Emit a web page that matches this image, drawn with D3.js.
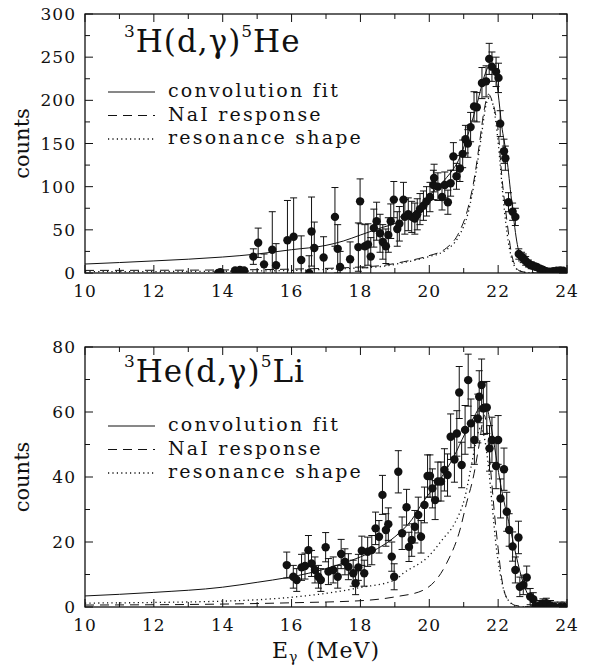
<!DOCTYPE html>
<html>
<head>
<meta charset="utf-8">
<script src="https://cdn.jsdelivr.net/npm/d3@7"></script>
<style>
body { margin: 0; background: #fff; }
text { font-family: 'DejaVu Serif', serif; fill: #111; }
</style>
</head>
<body>
<div id="chart"></div>
<script>
// x ticks (MeV) and y ticks per panel
let xTicks = [10, 12, 14, 16, 18, 20, 22, 24]
let topYTicks = [0, 50, 100, 150, 200, 250, 300]
let botYTicks = [0, 20, 40, 60, 80]

// 3H(d,g)5He : [E, counts, error]
let topPoints = [
  [13.87, 0, 2], [13.93, 1, 2], [14.36, 3, 2], [14.50, 3.5, 2], [14.62, 3, 2],
  [14.89, 19, 9], [15.03, 35, 17], [15.20, 10, 12], [15.44, 27, 44], [15.55, 9, 25],
  [15.88, 38, 46], [16.06, 42, 45], [16.28, 15, 28], [16.51, 0, 20], [16.58, 48, 40],
  [16.66, 29, 30], [16.93, 18, 24], [17.26, 65, 34], [17.34, 28, 28], [17.41, 7, 18],
  [17.70, 16, 20], [17.94, 30, 28], [17.99, 83, 26], [18.13, 31, 25], [18.22, 33, 24],
  [18.30, 19, 22], [18.39, 52, 22], [18.47, 60, 22], [18.57, 46, 22], [18.65, 36, 20],
  [18.74, 31, 20], [18.81, 44, 20], [18.88, 60, 20], [18.97, 85, 21], [19.07, 51, 20],
  [19.13, 57, 20], [19.25, 85, 20], [19.29, 65, 20], [19.39, 68, 19], [19.49, 65, 18],
  [19.58, 63, 18], [19.65, 68, 18], [19.73, 74, 18], [19.83, 78, 17], [19.92, 83, 17],
  [20.02, 88, 17], [20.12, 102, 17], [20.14, 110, 16], [20.25, 100, 16], [20.37, 88, 15],
  [20.45, 102, 15], [20.54, 82, 14], [20.62, 104, 15], [20.70, 135, 16], [20.79, 112, 15],
  [20.89, 121, 15], [20.97, 138, 16], [21.05, 155, 16], [21.12, 150, 16], [21.20, 169, 17],
  [21.30, 193, 17], [21.38, 192, 17], [21.53, 220, 18], [21.65, 222, 18], [21.74, 248, 18],
  [21.82, 239, 17], [21.94, 233, 17], [22.01, 226, 17], [22.06, 173, 15], [22.17, 141, 14],
  [22.21, 133, 14], [22.30, 82, 11], [22.42, 71, 10], [22.50, 65, 10], [22.60, 22, 6],
  [22.68, 19, 5], [22.73, 17, 5], [22.80, 14, 5], [22.88, 11, 4], [22.96, 9, 4],
  [23.05, 8, 3], [23.12, 7, 3], [23.22, 5, 3], [23.31, 3.5, 2], [23.40, 2, 2],
  [23.50, 1.5, 2], [23.60, 2, 2], [23.70, 2.7, 2], [23.80, 3, 2], [23.89, 2.7, 2]
]

// 3He(d,g)5Li : [E, counts, error]
let botPoints = [
  [15.86, 12.9, 4], [16.05, 9.3, 3.5], [16.15, 8.3, 3.5], [16.29, 12.2, 4], [16.39, 12.6, 4],
  [16.49, 17.5, 4.5], [16.58, 13.4, 4], [16.68, 11.4, 4], [16.78, 9.3, 3.5], [16.85, 8.3, 3.5],
  [16.99, 18.4, 4.5], [17.07, 10.9, 4], [17.21, 11.4, 4], [17.34, 9.3, 3.5], [17.44, 16.3, 4.5],
  [17.55, 13.9, 4], [17.65, 12.4, 4], [17.79, 10.4, 4], [17.86, 7.3, 3.5], [17.94, 12.2, 4],
  [18.04, 17.3, 4.5], [18.11, 10.4, 4], [18.21, 17, 4.5], [18.33, 17.5, 4.5], [18.44, 24.2, 5],
  [18.54, 21.6, 5], [18.64, 34.5, 6], [18.74, 23.7, 5], [18.81, 25.5, 5], [18.91, 15.5, 4.5],
  [18.98, 9.3, 4], [19.10, 41.6, 6.5], [19.21, 22.7, 5], [19.34, 30.7, 5.5], [19.41, 18.5, 4.5],
  [19.49, 20.6, 5], [19.58, 24.7, 5], [19.68, 28.3, 5.5], [19.76, 21.6, 5], [19.86, 31.4, 5.5],
  [19.95, 40.3, 6.5], [20.02, 40.3, 6.5], [20.09, 36.5, 6], [20.17, 32.9, 6], [20.25, 38.6, 6],
  [20.34, 38.6, 6], [20.44, 42.2, 6.5], [20.53, 40.6, 6.5], [20.62, 52.4, 7], [20.73, 45.4, 7],
  [20.80, 53.4, 7], [20.87, 66, 8], [20.94, 43.7, 7], [21.04, 54.5, 7.5], [21.13, 69.8, 8],
  [21.21, 56.5, 7.5], [21.31, 51.4, 7.5], [21.41, 58, 7.5], [21.45, 64.7, 8], [21.52, 68.3, 8],
  [21.57, 61.1, 8], [21.67, 61.4, 8], [21.75, 48.8, 7], [21.82, 51.4, 7], [21.94, 43.4, 7],
  [22.00, 51.4, 7.5], [22.07, 33.4, 6], [22.17, 42.4, 6.5], [22.25, 29.3, 6], [22.32, 23.7, 5],
  [22.42, 18.6, 4.5], [22.50, 11.4, 4], [22.59, 21.4, 5], [22.63, 6.2, 3], [22.73, 6.8, 3],
  [22.83, 9.1, 3.5], [22.93, 3.2, 2.5], [23.02, 2.4, 2], [23.10, 0, 1.5], [23.20, 0.5, 1.5],
  [23.30, 1, 1.5], [23.40, 1.2, 1.5], [23.52, 0.5, 1.5], [23.65, 0, 1.5], [23.80, 0, 1.5],
  [23.92, 0, 1.5]
]

let topFit = [
  [10, 10.4], [12, 14], [14, 18.5], [15, 22], [16, 27], [17, 32], [17.5, 37], [18, 44],
  [18.5, 51], [19.2, 61], [19.6, 72], [20, 90], [20.45, 108], [20.9, 135], [21.2, 170],
  [21.4, 198], [21.6, 228], [21.78, 242], [21.9, 234], [22.0, 208], [22.1, 172],
  [22.25, 134], [22.39, 84], [22.54, 37], [22.68, 14], [22.85, 7], [23, 4], [23.3, 1.5],
  [23.6, 0.5], [24, 0]
]
let topNaI = [
  [10, 3], [14, 3.5], [16, 4.5], [18, 7], [18.7, 9], [19.25, 13], [19.9, 19], [20.5, 29],
  [20.85, 46], [21.13, 76], [21.33, 115], [21.45, 148], [21.6, 190], [21.72, 207],
  [21.82, 200], [21.92, 185], [22.0, 165], [22.1, 115], [22.25, 62], [22.39, 22],
  [22.5, 8], [22.65, 2], [23, 0], [24, 0]
]
let topResonance = [
  [10, 1.5], [14, 2], [16, 3], [18, 6], [18.7, 8], [19.25, 12], [19.9, 18], [20.5, 27],
  [20.85, 42], [21.13, 70], [21.33, 110], [21.5, 155], [21.65, 195], [21.75, 203],
  [21.85, 195], [21.95, 170], [22.05, 130], [22.15, 85], [22.3, 35], [22.45, 10],
  [22.6, 3], [23, 0], [24, 0]
]
let botFit = [
  [10, 3.4], [12, 4.5], [14, 6.1], [15, 7.6], [15.9, 9.1], [16.5, 10.4], [17, 11.8],
  [17.5, 13.5], [18, 15.4], [18.5, 18], [19, 21.6], [19.5, 27], [19.8, 32], [20.36, 40],
  [20.7, 46], [21.04, 53.4], [21.3, 58.5], [21.5, 62], [21.62, 62.5], [21.76, 57.5],
  [21.9, 49], [22.05, 39], [22.2, 31], [22.34, 24.7], [22.53, 15.5], [22.73, 7.3],
  [22.88, 3.5], [23.02, 1.1], [23.3, 0.2], [24, 0]
]
let botNaI = [
  [10, 0.6], [14, 0.9], [16, 1.3], [18.1, 2], [19.05, 3.2], [19.83, 5.2], [20.5, 13.4],
  [20.89, 23.7], [21.08, 31.9], [21.28, 40], [21.45, 50], [21.6, 59], [21.7, 52],
  [21.8, 40], [21.9, 28], [22.0, 18], [22.1, 9], [22.2, 4], [22.35, 1.5], [22.5, 0.5],
  [23, 0], [24, 0]
]
let botResonance = [
  [10, 1.2], [14, 1.8], [16, 3], [17, 4.2], [18, 6], [19.0, 8.3], [19.25, 10.4],
  [19.97, 15.5], [20.4, 21], [20.75, 26], [21.04, 34], [21.23, 44], [21.38, 52],
  [21.48, 55], [21.58, 53], [21.7, 45], [21.82, 32], [21.95, 18], [22.1, 8], [22.3, 2],
  [22.6, 0], [24, 0]
]

let legendLabels = ['convolution fit', 'NaI response', 'resonance shape']
let lineStyles = ['none', '9,6', '1.2,3.2']

let svg = d3.select('#chart')
.append('svg')
.attr('width', 590)
.attr('height', 669)

let xScale = d3.scaleLinear()
.domain([10, 24])
.range([85, 567])

drawPanel({
  id: 'top', top: 14, bottom: 273, yMax: 300, yTicks: topYTicks, minorStep: 25,
  points: topPoints, curves: [topFit, topNaI, topResonance],
  title: ['3', 'H(d,γ)', '5', 'He'], titleY: 52, legendY: 97
})
drawPanel({
  id: 'bot', top: 347, bottom: 607, yMax: 80, yTicks: botYTicks, minorStep: 10,
  points: botPoints, curves: [botFit, botNaI, botResonance],
  title: ['3', 'He(d,γ)', '5', 'Li'], titleY: 382, legendY: 431
})

// x axis title
let xl = svg.append('text')
.attr('x', 272)
.attr('y', 658)
.style('font-size', '22px')
.style('letter-spacing', '1px')
xl.append('tspan').text('E')
xl.append('tspan').text('γ').attr('dy', 4).style('font-size', '14px')
xl.append('tspan').text(' (MeV)').attr('dy', -4)

function drawPanel(p) {
  let yScale = d3.scaleLinear()
  .domain([0, p.yMax])
  .range([p.bottom, p.top])

  let g = svg.append('g')

  g.append('clipPath')
  .attr('id', 'clip-' + p.id)
  .append('rect')
  .attr('x', 85).attr('y', p.top)
  .attr('width', 482).attr('height', p.bottom - p.top)

  // ticks on all four sides, pointing in
  let minorX = d3.range(10, 24.01, 1)
  let minorY = d3.range(0, p.yMax + 0.01, p.minorStep)
  let tickG = g.append('g').style('stroke', '#111').style('stroke-width', 1)
  minorX.forEach(v => {
    let len = v % 2 === 0 ? 8 : 5
    tickG.append('line').attr('x1', xScale(v)).attr('x2', xScale(v)).attr('y1', p.bottom).attr('y2', p.bottom - len)
    tickG.append('line').attr('x1', xScale(v)).attr('x2', xScale(v)).attr('y1', p.top).attr('y2', p.top + len)
  })
  minorY.forEach(v => {
    let len = p.yTicks.includes(v) ? 8 : 5
    tickG.append('line').attr('x1', 85).attr('x2', 85 + len).attr('y1', yScale(v)).attr('y2', yScale(v))
    tickG.append('line').attr('x1', 567).attr('x2', 567 - len).attr('y1', yScale(v)).attr('y2', yScale(v))
  })

  // frame
  g.append('rect')
  .attr('x', 85).attr('y', p.top)
  .attr('width', 482).attr('height', p.bottom - p.top)
  .style('fill', 'none')
  .style('stroke', '#111')
  .style('stroke-width', 1.3)

  g.selectAll('.xlab')
  .data(xTicks)
  .join('text')
  .attr('x', d => xScale(d))
  .attr('y', p.bottom + 24)
  .style('text-anchor', 'middle')
  .style('font-size', '17px')
  .style('letter-spacing', '1px')
  .text(d => d)

  g.selectAll('.ylab')
  .data(p.yTicks)
  .join('text')
  .attr('x', 76)
  .attr('y', d => yScale(d) + 6)
  .style('text-anchor', 'end')
  .style('font-size', '17px')
  .style('letter-spacing', '1px')
  .text(d => d)

  g.append('text')
  .text('counts')
  .attr('transform', `translate(29, ${(p.top + p.bottom) / 2}) rotate(-90)`)
  .style('text-anchor', 'middle')
  .style('font-size', '21px')

  let plot = g.append('g').attr('clip-path', `url(#clip-${p.id})`)

  let line = d3.line()
  .x(d => xScale(d[0]))
  .y(d => yScale(d[1]))
  .curve(d3.curveMonotoneX)

  plot.selectAll('.curve')
  .data(p.curves)
  .join('path')
  .attr('d', line)
  .style('fill', 'none')
  .style('stroke', '#111')
  .style('stroke-width', (d, i) => i === 2 ? 1.3 : 1)
  .style('stroke-dasharray', (d, i) => lineStyles[i])

  // error bars
  let bars = plot.selectAll('.bar')
  .data(p.points)
  .join('g')
  .style('stroke', '#111')
  .style('stroke-width', 1)
  bars.append('line')
  .attr('x1', d => xScale(d[0])).attr('x2', d => xScale(d[0]))
  .attr('y1', d => yScale(d[1] - d[2])).attr('y2', d => yScale(d[1] + d[2]))
  bars.append('line')
  .attr('x1', d => xScale(d[0]) - 3.5).attr('x2', d => xScale(d[0]) + 3.5)
  .attr('y1', d => yScale(d[1] + d[2])).attr('y2', d => yScale(d[1] + d[2]))
  bars.append('line')
  .attr('x1', d => xScale(d[0]) - 3.5).attr('x2', d => xScale(d[0]) + 3.5)
  .attr('y1', d => yScale(d[1] - d[2])).attr('y2', d => yScale(d[1] - d[2]))

  plot.selectAll('.dot')
  .data(p.points)
  .join('circle')
  .attr('cx', d => xScale(d[0]))
  .attr('cy', d => yScale(d[1]))
  .attr('r', 4.2)
  .style('fill', '#111')

  // title with superscripts
  let t = g.append('text')
  .attr('x', 124)
  .attr('y', p.titleY)
  .style('font-size', '31px')
  .style('letter-spacing', '1px')
  t.append('tspan').text(p.title[0]).style('font-size', '17px').attr('dy', -15)
  t.append('tspan').text(p.title[1]).attr('dy', 15)
  t.append('tspan').text(p.title[2]).style('font-size', '17px').attr('dy', -15)
  t.append('tspan').text(p.title[3]).attr('dy', 15)

  // legend
  legendLabels.forEach((label, i) => {
    let y = p.legendY + i * 23.5
    g.append('line')
    .attr('x1', 108).attr('x2', 155)
    .attr('y1', y - 5).attr('y2', y - 5)
    .style('stroke', '#111')
    .style('stroke-width', i === 2 ? 1.3 : 1)
    .style('stroke-dasharray', lineStyles[i])
    g.append('text')
    .attr('x', 168)
    .attr('y', y)
    .style('font-size', '19px')
    .style('letter-spacing', '2.2px')
    .text(label)
  })
}
</script>
</body>
</html>
